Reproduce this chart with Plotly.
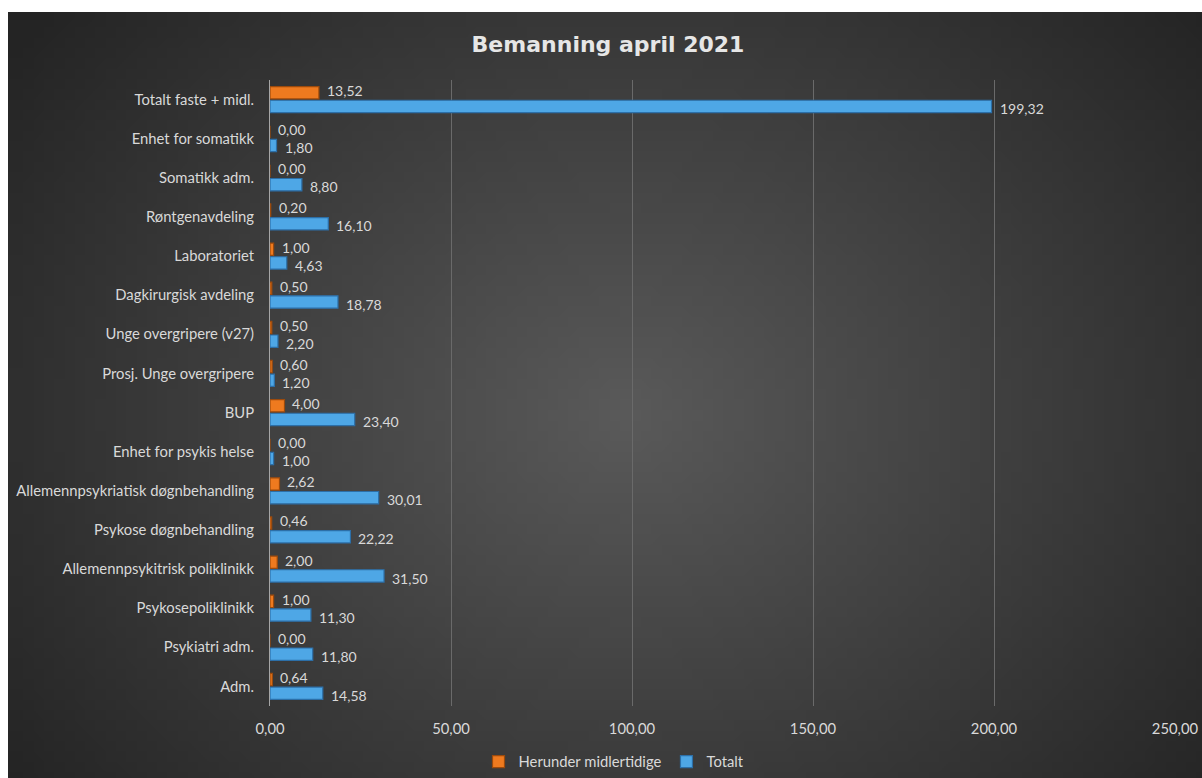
import base64
import struct
import zlib

import plotly.graph_objects as go

# Staffing per unit, April 2021 (listed bottom to top)
categories = [
    "Adm.",
    "Psykiatri adm.",
    "Psykosepoliklinikk",
    "Allemennpsykitrisk poliklinikk",
    "Psykose døgnbehandling",
    "Allemennpsykriatisk døgnbehandling",
    "Enhet for psykis helse",
    "BUP",
    "Prosj. Unge overgripere",
    "Unge overgripere (v27)",
    "Dagkirurgisk avdeling",
    "Laboratoriet",
    "Røntgenavdeling",
    "Somatikk adm.",
    "Enhet for somatikk",
    "Totalt faste + midl.",
]
temporary = [0.64, 0.00, 1.00, 2.00, 0.46, 2.62, 0.00, 4.00, 0.60, 0.50, 0.50, 1.00, 0.20, 0.00, 0.00, 13.52]
total = [14.58, 11.80, 11.30, 31.50, 22.22, 30.01, 1.00, 23.40, 1.20, 2.20, 18.78, 4.63, 16.10, 8.80, 1.80, 199.32]
x_ticks = [0, 50, 100, 150, 200, 250]


def radial_gradient_png(w, h, inner, outer, cx=0.5, cy=0.5):
    """Build a small PNG (data URI) with a radial grey gradient."""
    rows = []
    for j in range(h):
        row = bytearray([0])
        for i in range(w):
            dx = (i / (w - 1) - cx) * 1.25
            dy = (j / (h - 1) - cy)
            d = min(1.0, (dx * dx + dy * dy) ** 0.5 / 0.78)
            v = int(round(inner + (outer - inner) * d))
            row += bytes([v, v, v])
        rows.append(bytes(row))
    raw = b"".join(rows)

    def chunk(tag, data):
        c = struct.pack(">I", len(data)) + tag + data
        return c + struct.pack(">I", zlib.crc32(tag + data) & 0xFFFFFFFF)

    png = b"\x89PNG\r\n\x1a\n"
    png += chunk(b"IHDR", struct.pack(">IIBBBBB", w, h, 8, 2, 0, 0, 0))
    png += chunk(b"IDAT", zlib.compress(raw, 9))
    png += chunk(b"IEND", b"")
    return "data:image/png;base64," + base64.b64encode(png).decode()


def fmt(v):
    return f"{v:.2f}".replace(".", ",")


W, H = 1202, 778
L, R, T, B = 270, 1175, 80, 706  # plot area edges in pixels
pw, ph = R - L, B - T
bg_left, bg_top = 8, 12

text_col = "#d9d9d9"
font_family = "Lato, 'Open Sans', sans-serif"
fs = 14.8
label_fs = 14

fig = go.Figure()

fig.add_trace(go.Bar(
    name="Totalt",
    y=categories,
    x=total,
    orientation="h",
    marker=dict(color="#4ea7e6", line=dict(color="#2c6fa8", width=1.2)),
    legendrank=2,
))
fig.add_trace(go.Bar(
    name="Herunder midlertidige",
    y=categories,
    x=temporary,
    orientation="h",
    marker=dict(color="#ee7a1f", line=dict(color="#9c4a0c", width=1.2)),
    legendrank=1,
))

# Value labels just right of each bar end: temporary above, total below
annotations = []
for cat, t_val, tot_val in zip(categories, temporary, total):
    for val, shift in ((t_val, 9), (tot_val, -9)):
        annotations.append(dict(
            x=val, y=cat, xref="x", yref="y",
            text=fmt(val), showarrow=False,
            xanchor="left", yanchor="middle",
            xshift=6, yshift=shift,
            font=dict(size=label_fs, color=text_col, family=font_family),
        ))

fig.update_layout(
    width=W,
    height=H,
    margin=dict(l=L, r=W - R, t=T, b=H - B, pad=0, autoexpand=False),
    paper_bgcolor="white",
    plot_bgcolor="rgba(0,0,0,0)",
    separators=", ",
    barmode="group",
    bargap=0.30,
    bargroupgap=0.1,
    font=dict(family=font_family, color=text_col, size=fs),
    title=dict(
        text="<b>Bemanning april 2021</b>",
        x=608 / W,
        xanchor="center",
        y=1 - 44 / H,
        yanchor="middle",
        font=dict(family="'DejaVu Sans', sans-serif", size=22, color="#e6e6e6"),
    ),
    xaxis=dict(
        range=[0, 250],
        tickvals=x_ticks,
        tickformat=".2f",
        showgrid=True,
        gridcolor="#6a6a6a",
        gridwidth=1,
        zeroline=False,
        showline=False,
        ticks="",
        ticklabelstandoff=12,
        tickfont=dict(size=fs, color=text_col),
        automargin=False,
    ),
    yaxis=dict(
        showgrid=False,
        showline=True,
        linecolor="#a6a6a6",
        linewidth=1,
        ticks="",
        ticklabelstandoff=12,
        tickfont=dict(size=fs, color=text_col),
        automargin=False,
    ),
    legend=dict(
        orientation="h",
        x=(614 - L) / pw,
        xanchor="center",
        y=-(762 - B) / ph,
        yanchor="middle",
        font=dict(size=fs, color=text_col),
        bgcolor="rgba(0,0,0,0)",
        itemwidth=30,
        traceorder="normal",
    ),
    annotations=annotations,
    images=[dict(
        source=radial_gradient_png(120, 78, 0x5a, 0x24, cx=0.5, cy=0.5),
        xref="paper",
        yref="paper",
        x=(bg_left - L) / pw,
        y=(B - bg_top) / ph,
        sizex=(W + 40 - bg_left) / pw,
        sizey=(H + 40 - bg_top) / ph,
        xanchor="left",
        yanchor="top",
        sizing="stretch",
        layer="below",
    )],
)

fig.write_html("out.html", post_script="document.body.style.margin='0';")
